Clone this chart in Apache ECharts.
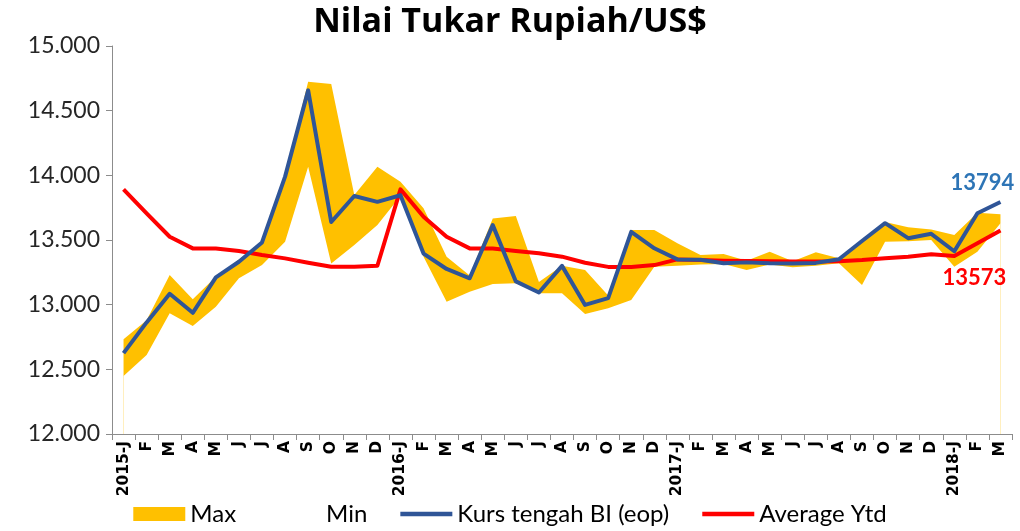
<!DOCTYPE html>
<html>
<head>
<meta charset="utf-8">
<script src="https://cdn.jsdelivr.net/npm/echarts@6/dist/echarts.min.js"></script>
<style>html,body{margin:0;padding:0;background:#fff}#c{width:1020px;height:531px}</style>
</head>
<body>
<div id="c"></div>
<script>
const categories = ['2015-J','F','M','A','M','J','J','A','S','O','N','D',
  '2016-J','F','M','A','M','J','J','A','S','O','N','D',
  '2017-J','F','M','A','M','J','J','A','S','O','N','D',
  '2018-J','F','M'];
const maxValues = [12732,12880,13229,13041,13215,13350,13490,14000,14723,14706,13848,14066,
  13950,13745,13371,13225,13667,13685,13175,13300,13268,13070,13577,13577,
  13474,13384,13391,13340,13409,13335,13405,13358,13490,13640,13598,13582,
  13538,13711,13700];
const minValues = [12448,12611,12933,12835,12984,13204,13306,13487,14066,13319,13461,13616,
  13840,13371,13023,13100,13160,13165,13088,13088,12928,12972,13036,13293,
  13300,13310,13315,13268,13310,13289,13300,13320,13152,13487,13490,13500,
  13293,13409,13630];
const kursValues = [12625,12863,13084,12937,13211,13332,13481,13990,14657,13639,13840,13795,
  13846,13395,13276,13204,13615,13180,13094,13300,12998,13051,13563,13436,
  13350,13347,13321,13327,13321,13319,13323,13351,13492,13630,13514,13548,
  13413,13707,13794];
const avgValues = [13892,13706,13525,13435,13435,13415,13384,13358,13324,13293,13293,13301,
  13892,13680,13525,13435,13435,13415,13397,13371,13324,13292,13292,13306,
  13350,13345,13340,13338,13335,13333,13333,13336,13345,13358,13371,13389,
  13376,13474,13573];
const yTicks = ['12.000','12.500','13.000','13.500','14.000','14.500','15.000'];

const FONT = 'Lato';
const last = categories.length - 1;
function withEndLabel(arr, label) {
  return arr.map((v, i) => i === last ? { value: v, label: label } : v);
}
const LINE_ICON = 'path://M0,0 L0,0 Z M0,4.7 L52,4.7 L52,9.3 L0,9.3 Z M52,14 L52,14 Z';

const chart = echarts.init(document.getElementById('c'), null, { renderer: 'canvas' });
chart.setOption({
  animation: false,
  backgroundColor: '#ffffff',
  title: {
    text: 'Nilai Tukar Rupiah/US$',
    left: 'center', top: 0,
    textStyle: { fontFamily: 'Open Sans', fontWeight: 'bold', fontSize: 34, color: '#000' }
  },
  grid: { left: 112, right: 8, top: 46, bottom: 97, containLabel: false },
  legend: {
    bottom: 0, left: 'center',
    itemWidth: 52, itemHeight: 14, itemGap: 33,
    textStyle: { fontFamily: FONT, fontSize: 24, color: '#000' },
    data: [
      { name: 'Max', icon: 'rect' },
      { name: 'Min', icon: 'rect', itemStyle: { color: '#ffffff' } },
      { name: 'Kurs tengah BI (eop)', icon: LINE_ICON, itemStyle: { color: '#2F5597' } },
      { name: 'Average Ytd', icon: LINE_ICON, itemStyle: { color: '#FF0000' } }
    ]
  },
  xAxis: {
    type: 'category',
    data: categories,
    boundaryGap: true,
    z: 5,
    axisLine: { lineStyle: { color: '#8c8c8c', width: 1 } },
    axisTick: { show: true, length: 6, interval: 0, lineStyle: { color: '#8c8c8c' } },
    axisLabel: {
      interval: 0, rotate: 90, margin: 7,
      fontFamily: 'DejaVu Sans', fontWeight: 'bold', fontSize: 15.5, color: '#000'
    }
  },
  yAxis: {
    type: 'value',
    min: 12000, max: 15000, interval: 500,
    z: 5,
    splitLine: { show: false },
    axisLine: { show: true, lineStyle: { color: '#8c8c8c', width: 1 } },
    axisTick: { show: true, length: 6, lineStyle: { color: '#8c8c8c' } },
    axisLabel: {
      margin: 12,
      fontFamily: FONT, fontSize: 23, color: '#262626',
      formatter: function (v) { return yTicks[Math.round((v - 12000) / 500)]; }
    }
  },
  series: [
    {
      name: 'Max', type: 'line', data: maxValues,
      symbol: 'none', lineStyle: { width: 0 },
      itemStyle: { color: '#FFC000' },
      areaStyle: { color: '#FFC000', opacity: 1, origin: 'start' },
      z: 1
    },
    {
      name: 'Min', type: 'line', data: minValues,
      symbol: 'none', lineStyle: { width: 0 },
      itemStyle: { color: '#ffffff' },
      areaStyle: { color: '#ffffff', opacity: 1, origin: 'start' },
      z: 2
    },
    {
      name: 'Kurs tengah BI (eop)', type: 'line',
      data: withEndLabel(kursValues, {
        show: true, position: 'top', offset: [-18, -3],
        fontFamily: FONT, fontWeight: 'bold', fontSize: 22, color: '#2E75B6'
      }),
      symbol: 'circle', symbolSize: 0.1, showSymbol: true, showAllSymbol: true,
      lineStyle: { color: '#2F5597', width: 4, join: 'round' },
      itemStyle: { color: '#2F5597' },
      z: 4
    },
    {
      name: 'Average Ytd', type: 'line',
      data: withEndLabel(avgValues, {
        show: true, position: 'bottom', offset: [-26, 31],
        fontFamily: FONT, fontWeight: 'bold', fontSize: 22, color: '#FF0000'
      }),
      symbol: 'circle', symbolSize: 0.1, showSymbol: true, showAllSymbol: true,
      lineStyle: { color: '#FF0000', width: 4, join: 'round' },
      itemStyle: { color: '#FF0000' },
      z: 3
    }
  ]
});
</script>
</body>
</html>
